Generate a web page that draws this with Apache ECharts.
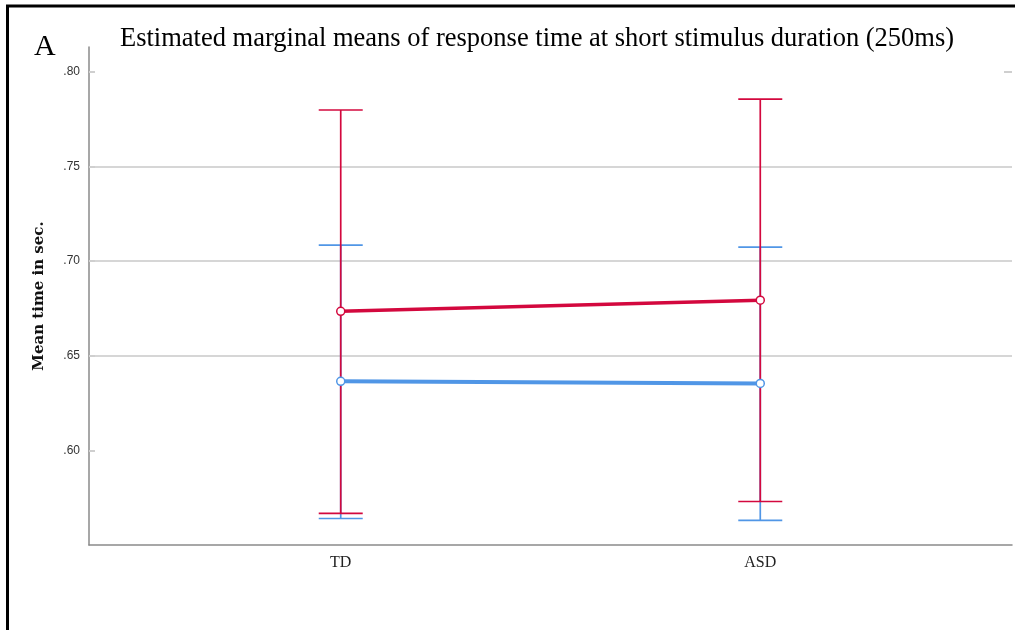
<!DOCTYPE html>
<html>
<head>
<meta charset="utf-8">
<script src="https://cdn.jsdelivr.net/npm/echarts@6/dist/echarts.min.js"></script>
<style>html,body{margin:0;padding:0;background:#fff;}#c{width:1015px;height:630px;}</style>
</head>
<body>
<div id="c"></div>
<script>
const categories = ['TD', 'ASD'];
const categoryPos = [1, 2];
const redMeans = [0.6735, 0.6794];
const redLower = [0.5667, 0.5730];
const redUpper = [0.7799, 0.7857];
const blueMeans = [0.6365, 0.6354];
const blueLower = [0.5640, 0.5630];
const blueUpper = [0.7085, 0.7074];
const yTicks = [0.60, 0.65, 0.70, 0.75, 0.80];

const RED = '#d3083e';
const BLUE = '#5096e6';

function pairs(vals) { return vals.map((v, i) => [categoryPos[i], v]); }
function errData(lo, hi) { return lo.map((l, i) => [categoryPos[i], l, hi[i]]); }

function errSeries(name, data, color, z) {
  return {
    type: 'custom', name: name, z: z, silent: true,
    data: data,
    renderItem: function (params, api) {
      const x = api.value(0);
      const lo = api.coord([x, api.value(1)]);
      const hi = api.coord([x, api.value(2)]);
      const hw = 22;
      const st = { stroke: color, lineWidth: 1.7, fill: null };
      return {
        type: 'group',
        children: [
          { type: 'line', shape: { x1: lo[0], y1: lo[1], x2: hi[0], y2: hi[1] }, style: st },
          { type: 'line', shape: { x1: lo[0] - hw, y1: lo[1], x2: lo[0] + hw, y2: lo[1] }, style: st },
          { type: 'line', shape: { x1: hi[0] - hw, y1: hi[1], x2: hi[0] + hw, y2: hi[1] }, style: st }
        ]
      };
    }
  };
}

const chart = echarts.init(document.getElementById('c'));
chart.setOption({
  animation: false,
  backgroundColor: '#fff',
  title: [{
    text: 'Estimated marginal means of response time at short stimulus duration (250ms)',
    left: 115, top: 21,
    textStyle: { fontFamily: 'Liberation Serif', fontSize: 26.5, fontWeight: 'normal', color: '#000' }
  }, {
    text: 'A', left: 29, top: 27,
    textStyle: { fontFamily: 'Liberation Serif', fontSize: 30, fontWeight: 'normal', color: '#000' }
  }],
  graphic: [
    { type: 'line', shape: { x1: 6, y1: 6, x2: 1015, y2: 6 }, style: { stroke: '#000', lineWidth: 3 } },
    { type: 'line', shape: { x1: 7.5, y1: 5, x2: 7.5, y2: 630 }, style: { stroke: '#000', lineWidth: 3 } }
  ],
  grid: { left: 89, right: 3, top: 47, bottom: 85 },
  xAxis: {
    type: 'value', min: 0.4, max: 2.6,
    axisLine: { show: true, lineStyle: { color: '#8a8a8a', width: 1.5 } },
    axisTick: { show: false },
    splitLine: { show: false },
    axisLabel: {
      customValues: categoryPos,
      formatter: function (v) { const i = categoryPos.indexOf(v); return i >= 0 ? categories[i] : ''; },
      margin: 10,
      fontFamily: 'Liberation Serif', fontSize: 16, color: '#222'
    }
  },
  yAxis: [{
    type: 'value', min: 0.55, max: 0.8132, interval: 0.05,
    name: 'Mean time in sec.',
    nameLocation: 'middle', nameGap: 42, nameRotate: 90,
    nameTextStyle: { fontFamily: 'DejaVu Serif', fontWeight: 'bold', fontSize: 15, color: '#111' },
    axisLine: { show: true, onZero: false, lineStyle: { color: '#8a8a8a', width: 1.5 } },
    axisTick: { show: true, inside: true, length: 6, customValues: yTicks, lineStyle: { color: '#cfcfcf', width: 2 } },
    axisLabel: {
      customValues: yTicks,
      formatter: function (v) { return v.toFixed(2).replace(/^0/, ''); },
      margin: 9, fontFamily: 'Liberation Sans', fontSize: 12, color: '#333'
    },
    splitLine: {
      show: true, showMinLine: false, showMaxLine: false,
      lineStyle: { color: ['#d6d6d6', '#d6d6d6', '#d6d6d6', '#d6d6d6', 'rgba(0,0,0,0)'], width: 2 }
    }
  }, {
    type: 'value', min: 0.55, max: 0.8132, interval: 0.05, position: 'right',
    axisLine: { show: false },
    axisTick: { show: true, inside: true, length: 8, customValues: [0.80], lineStyle: { color: '#cfcfcf', width: 2 } },
    axisLabel: { show: false },
    splitLine: { show: false }
  }],
  series: [
    errSeries('blueErr', errData(blueLower, blueUpper), BLUE, 2),
    errSeries('redErr', errData(redLower, redUpper), RED, 3),
    {
      type: 'line', name: 'blue', z: 4, data: pairs(blueMeans),
      symbol: 'circle', symbolSize: 8, showSymbol: true,
      lineStyle: { color: BLUE, width: 4 },
      itemStyle: { color: '#fff', borderColor: BLUE, borderWidth: 1.5 }
    },
    {
      type: 'line', name: 'red', z: 5, data: pairs(redMeans),
      symbol: 'circle', symbolSize: 8, showSymbol: true,
      lineStyle: { color: RED, width: 3.5 },
      itemStyle: { color: '#fff', borderColor: RED, borderWidth: 1.5 }
    }
  ]
});
</script>
</body>
</html>
